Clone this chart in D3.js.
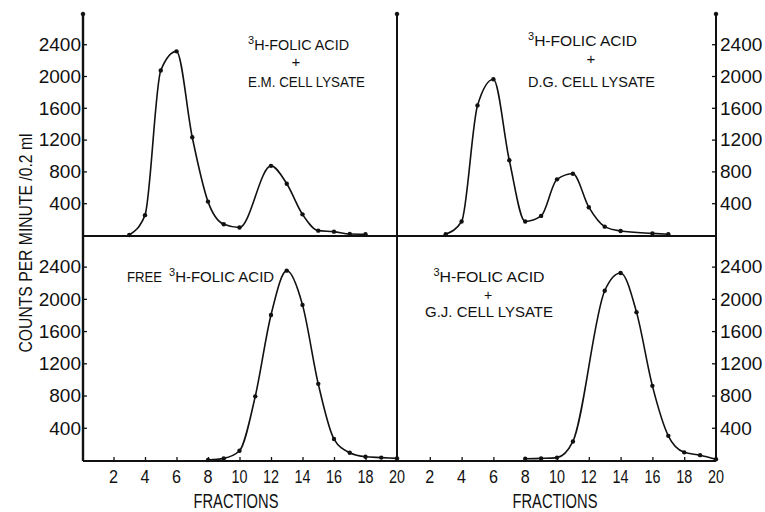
<!DOCTYPE html>
<html lang="en">
<head>
    <meta charset="UTF-8">
    <title>Folic acid fractions</title>
    <script src="https://d3js.org/d3.v7.min.js"></script>
    <style>
        body { margin: 0; background: #fff; }
        text { fill: #111; font-family: "Liberation Sans", Arial, sans-serif; }
    </style>
</head>
<body>
<svg id="main" width="765" height="512"></svg>

<script>
    // values (counts per minute / 0.2 ml per fraction)
    let emFrac = [3, 4, 5, 6, 7, 8, 9, 10, 12, 13, 14, 15, 16, 17, 18];
    let emCpm  = [0, 250, 2070, 2310, 1230, 420, 135, 95, 870, 645, 260, 55, 42, 12, 10];

    let dgFrac = [3, 4, 5, 6, 7, 8, 9, 10, 11, 12, 13, 14, 16, 17];
    let dgCpm  = [10, 170, 1630, 1960, 940, 170, 240, 700, 770, 350, 105, 50, 20, 10];

    let freeFrac = [8, 9, 10, 11, 12, 13, 14, 15, 16, 17, 18, 19, 20];
    let freeCpm  = [0, 20, 115, 790, 1800, 2350, 1925, 945, 260, 90, 40, 30, 20];

    let gjFrac = [8, 9, 10, 11, 13, 14, 15, 16, 17, 18, 19, 20];
    let gjCpm  = [15, 20, 30, 230, 2100, 2320, 1835, 920, 300, 95, 60, 10];

    let yTicks = [400, 800, 1200, 1600, 2000, 2400];
    let xTicks = [2, 4, 6, 8, 10, 12, 14, 16, 18, 20];

    let svg = d3.select('svg#main');

    let xLeft = d3.scaleLinear().domain([0, 20]).range([82, 397]);
    let xRight = d3.scaleLinear().domain([0, 20]).range([398, 716]);
    let yTop = d3.scaleLinear().domain([0, 2780]).range([235, 14]);
    let yBot = d3.scaleLinear().domain([0, 2780]).range([460, 236]);

    let panels = [
        {x: xLeft, y: yTop, frac: emFrac, cpm: emCpm},
        {x: xRight, y: yTop, frac: dgFrac, cpm: dgCpm},
        {x: xLeft, y: yBot, frac: freeFrac, cpm: freeCpm},
        {x: xRight, y: yBot, frac: gjFrac, cpm: gjCpm}
    ];

    // frame lines
    let frame = svg.append('g').attr('stroke', '#111').attr('fill', 'none');
    frame.append('line').attr('x1', 83).attr('x2', 83).attr('y1', 13).attr('y2', 461).attr('stroke-width', 2.4);
    frame.append('line').attr('x1', 397).attr('x2', 397).attr('y1', 13).attr('y2', 461).attr('stroke-width', 2);
    frame.append('line').attr('x1', 716).attr('x2', 716).attr('y1', 13).attr('y2', 461).attr('stroke-width', 2);
    frame.append('line').attr('x1', 83).attr('x2', 716).attr('y1', 236).attr('y2', 236).attr('stroke-width', 2);
    frame.append('line').attr('x1', 83).attr('x2', 716).attr('y1', 461).attr('y2', 461).attr('stroke-width', 2);
    [83, 397, 716].forEach(function(x) {
        frame.append('circle').attr('cx', x).attr('cy', 14).attr('r', 1.8).attr('fill', '#111');
    });

    // y axes, ticks pointing into the panels
    [yTop, yBot].forEach(function(y) {
        let la = svg.append('g').attr('transform', 'translate(83,0)')
            .call(d3.axisRight(y).tickValues(yTicks).tickSize(4).tickFormat(''));
        la.select('.domain').remove();
        svg.append('g').selectAll('text').data(yTicks).enter().append('text')
            .attr('x', 81).attr('y', function(d) { return y(d); })
            .attr('dy', '0.36em')
            .attr('text-anchor', 'end')
            .style('font-size', '19px')
            .text(function(d) { return d; });

        let ra = svg.append('g').attr('transform', 'translate(716,0)')
            .call(d3.axisLeft(y).tickValues(yTicks).tickSize(4).tickFormat(''));
        ra.select('.domain').remove();
        svg.append('g').selectAll('text').data(yTicks).enter().append('text')
            .attr('x', 720).attr('y', function(d) { return y(d); })
            .attr('dy', '0.36em')
            .style('font-size', '19px')
            .text(function(d) { return d; });
    });

    // x axes at the bottom
    [xLeft, xRight].forEach(function(x) {
        let xa = svg.append('g').attr('transform', 'translate(0,461)')
            .call(d3.axisTop(x).tickValues(xTicks.slice(0, 9)).tickSize(4).tickFormat(''));
        xa.select('.domain').remove();
        svg.append('g').selectAll('text').data(xTicks).enter().append('text')
            .attr('x', function(d) { return x(d); })
            .attr('y', 483)
            .attr('text-anchor', 'middle')
            .style('font-size', '18px')
            .attr('textLength', function(d) { return d < 10 ? 9 : 16; })
            .attr('lengthAdjust', 'spacingAndGlyphs')
            .text(function(d) { return d; });
    });
    svg.selectAll('.tick line').attr('stroke', '#111').attr('stroke-width', 1.3);

    // curves and points
    let line = d3.line().curve(d3.curveMonotoneX);
    panels.forEach(function(p) {
        let pts = p.frac.map(function(f, i) { return [p.x(f), p.y(p.cpm[i])]; });
        svg.append('path')
            .attr('d', line(pts))
            .attr('fill', 'none')
            .attr('stroke', '#111')
            .attr('stroke-width', 1.6);
        svg.append('g').selectAll('circle').data(pts).enter().append('circle')
            .attr('cx', function(d) { return d[0]; })
            .attr('cy', function(d) { return d[1]; })
            .attr('r', 2.2)
            .attr('fill', '#111');
    });

    // annotations; the lettering in the figure is tall and narrow, so widths are fixed
    function folic(x, y, anchor, width) {
        let t = svg.append('text')
            .attr('x', x).attr('y', y).attr('text-anchor', anchor)
            .style('font-size', '15px');
        t.append('tspan').attr('dy', -6).style('font-size', '11px').text('3');
        t.append('tspan').attr('dy', 6)
            .attr('textLength', width).attr('lengthAdjust', 'spacingAndGlyphs')
            .text('H-FOLIC ACID');
    }
    function note(x, y, anchor, s, size, width) {
        let t = svg.append('text')
            .attr('x', x).attr('y', y).attr('text-anchor', anchor)
            .style('font-size', size)
            .text(s);
        if (width) t.attr('textLength', width).attr('lengthAdjust', 'spacingAndGlyphs');
    }

    folic(248, 50, 'start', 95);
    note(296, 67, 'middle', '+', '15px');
    note(248, 87, 'start', 'E.M. CELL LYSATE', '15px', 117);

    folic(528, 46, 'start', 103);
    note(591, 64, 'middle', '+', '15px');
    note(528, 87, 'start', 'D.G. CELL LYSATE', '15px', 127);

    note(127, 282, 'start', 'FREE', '15px', 35);
    folic(169, 282, 'start', 99);

    folic(489, 282, 'middle', 105);
    note(488, 300, 'middle', '+', '14px');
    note(489, 317, 'middle', 'G.J. CELL LYSATE', '15px', 128);

    note(236, 508, 'middle', 'FRACTIONS', '20px', 85);
    note(555, 508, 'middle', 'FRACTIONS', '20px', 85);

    svg.append('text')
        .attr('transform', 'translate(32,243) rotate(-90)')
        .attr('text-anchor', 'middle')
        .style('font-size', '18px')
        .attr('textLength', 219)
        .attr('lengthAdjust', 'spacingAndGlyphs')
        .text('COUNTS PER MINUTE /0.2 ml');
</script>
</body>
</html>
